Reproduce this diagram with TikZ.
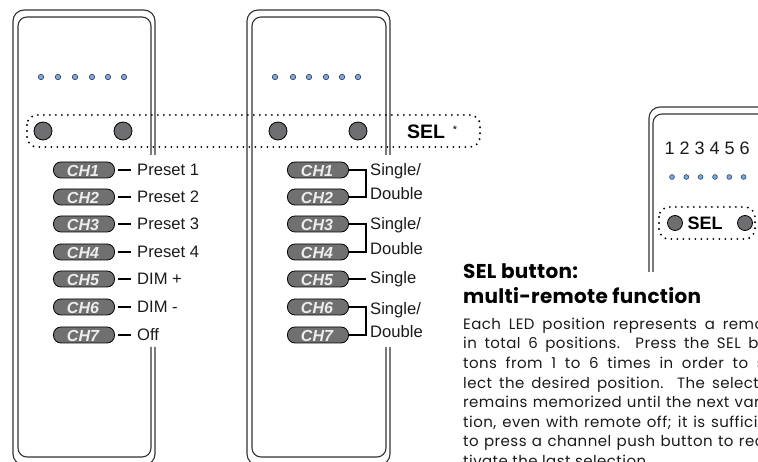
\documentclass[tikz,border=0pt]{standalone}
\usepackage{fontspec}
\setmainfont{Liberation Sans}
\newfontfamily\popfont{Poppins}[LetterSpace=3]
\newfontfamily\pophead{Poppins}[LetterSpace=1.5]
\definecolor{ledblue}{HTML}{7FA7DA}
\definecolor{ledline}{HTML}{2B3F66}
\definecolor{btngray}{HTML}{6E6E70}
\definecolor{pillgray}{HTML}{707070}
\definecolor{pilltext}{HTML}{EDEDED}
\definecolor{edge}{HTML}{333333}
\definecolor{txt}{HTML}{1A1A1A}
\tikzset{
  shell/.style={draw=edge, line width=1.1pt, rounded corners=11pt},
  shellin/.style={draw=edge, line width=1.1pt, rounded corners=9pt},
  led/.style={circle, draw=ledline, fill=ledblue, line width=0.6pt, minimum size=5.5pt, inner sep=0pt},
  ledsm/.style={led, minimum size=4.8pt},
  btn/.style={circle, draw=black, fill=btngray, line width=0.8pt, minimum size=18pt, inner sep=0pt},
  btnsm/.style={btn, minimum size=15pt},
  pill/.style={rectangle, rounded corners=7.5pt, minimum width=61pt, minimum height=16pt, draw=black, line width=0.8pt, fill=pillgray, inner sep=0pt},
  pilltxt/.style={inner sep=0pt, font=\fontsize{16}{16}\selectfont\bfseries\itshape, text=pilltext},
  selband/.style={draw=black, line width=2.1pt, dash pattern=on 0pt off 6pt, line cap=round, rounded corners=10pt},
  lbl/.style={anchor=west, font=\fontsize{16.6}{16.6}\selectfont, text=txt, inner sep=0pt},
  tick/.style={draw=black, line width=1.4pt},
  brk/.style={draw=black, line width=1.2pt},
  hd/.style={anchor=base west, inner sep=0pt, font=\pophead\bfseries\fontsize{20}{22}\selectfont, text=black},
}
\begin{document}
\begin{tikzpicture}[x=1pt,y=-1pt]
\useasboundingbox (0,0) rectangle (758,462);
% remote 1
\draw[shell] (155,155) -- (155,10) -- (13,10) -- (13,465) -- (155,465) -- (155,347);
\draw[shellin] (151,155) -- (151,17) -- (18,17) -- (18,457) -- (151,457) -- (151,347);
% remote 2
\draw[shell] (390,155) -- (390,10) -- (247,10) -- (247,465) -- (390,465) -- (390,347);
\draw[shellin] (386,155) -- (386,17) -- (252,17) -- (252,457) -- (386,457) -- (386,347);
% remote 3
\draw[shell] (649,272) -- (649,107) -- (820,107);
\draw[shellin] (653,272) -- (653,114) -- (820,114);
% LEDs
\foreach \x [count=\i] in {41,58,75,92,108,124} \node[led] (la\i) at (\x,77) {};
\foreach \x [count=\i] in {275,293,309,326,342,358} \node[led] (lb\i) at (\x,77) {};
\foreach \x [count=\i] in {672,686.3,700.6,715,729.3,743.6} \node[ledsm] (lc\i) at (\x,177) {};
% big SEL band
\draw[selband] (27,115) rectangle (480,147);
\node[btn] (ba1) at (43,131) {};
\node[btn] (ba2) at (123,131) {};
\node[btn] (bb1) at (278,131) {};
\node[btn] (bb2) at (358,131) {};
\node[inner sep=0pt, font=\fontsize{19.5}{19.5}\selectfont\bfseries] (sel) at (426,132) {SEL};
\node[inner sep=0pt, font=\fontsize{11}{11}\selectfont] (ast) at (455,130) {*};
% remote 1 channels
\foreach \y/\t/\l [count=\i] in {170/CH1/Preset 1,197/CH2/Preset 2,224/CH3/Preset 3,252/CH4/Preset 4,279/CH5/DIM +,307/CH6/DIM -,335/CH7/Off} {
  \node[pill] (lp\i) at (84,\y) {};
  \node[pilltxt] (lt\i) at (83,\y+1) {\t};
  \node[lbl] (ll\i) at (137,\y) {\l};
  \draw[tick] ([xshift=3pt]lp\i.east) -- ([xshift=-6pt]ll\i.west);
}
% remote 2 channels
\foreach \y/\t [count=\i] in {170/CH1,197/CH2,224/CH3,252/CH4,279/CH5,307/CH6,335/CH7} {
  \node[pill] (rp\i) at (318,\y) {};
  \node[pilltxt] (rt\i) at (317,\y+1) {\t};
}
\node[lbl] (s1) at (370,171) {Single/};
\node[lbl] (d1) at (370,194) {Double};
\node[lbl] (s2) at (370,225) {Single/};
\node[lbl] (d2) at (370,249) {Double};
\node[lbl] (s5) at (370,279) {Single};
\node[lbl] (s3) at (370,310) {Single/};
\node[lbl] (d3) at (370,332) {Double};
\draw[brk] (rp1.east) -- ++(17,0) |- (rp2.east);
\draw[brk] (rp3.east) -- ++(17,0) |- (rp4.east);
\draw[brk] (rp6.east) -- ++(17,0) |- (rp7.east);
\draw[brk] (rp5.east) -- ([xshift=-4pt]s5.west);
% remote 3 content
\foreach \d [count=\i] in {1,...,6} \node[inner sep=0pt, font=\fontsize{18}{18}\selectfont, text=txt] (dg\i) at ({654.5+15*\i},148) {\d};
\draw[selband] (659,207) rectangle (755,239);
\node[btnsm] (bc1) at (675,223) {};
\node[btnsm] (bc2) at (745,223) {};
\node[inner sep=0pt, font=\fontsize{18}{18}\selectfont\bfseries] (sel2) at (705,223) {SEL};
% text
\node[hd] (h1) at (463,279) {SEL button:};
\node[hd] (h2) at (463,304) {multi-remote function};
\node[anchor=north west, inner sep=0pt, align=left, text=txt, font=\popfont\fontsize{15}{19.6}\selectfont] (body) at (463,315.3) {%
\strut\makebox[320pt][s]{Each LED position represents a remote,}\\
\makebox[320pt][s]{in total 6 positions. Press the SEL but-}\\
\makebox[320pt][s]{tons from 1 to 6 times in order to se-}\\
\makebox[320pt][s]{lect the desired position. The selection}\\
\makebox[320pt][s]{remains memorized until the next varia-}\\
\makebox[320pt][s]{tion, even with remote off; it is sufficient}\\
\makebox[320pt][s]{to press a channel push button to reac-}\\
tivate the last selection.};
\end{tikzpicture}
\end{document}
